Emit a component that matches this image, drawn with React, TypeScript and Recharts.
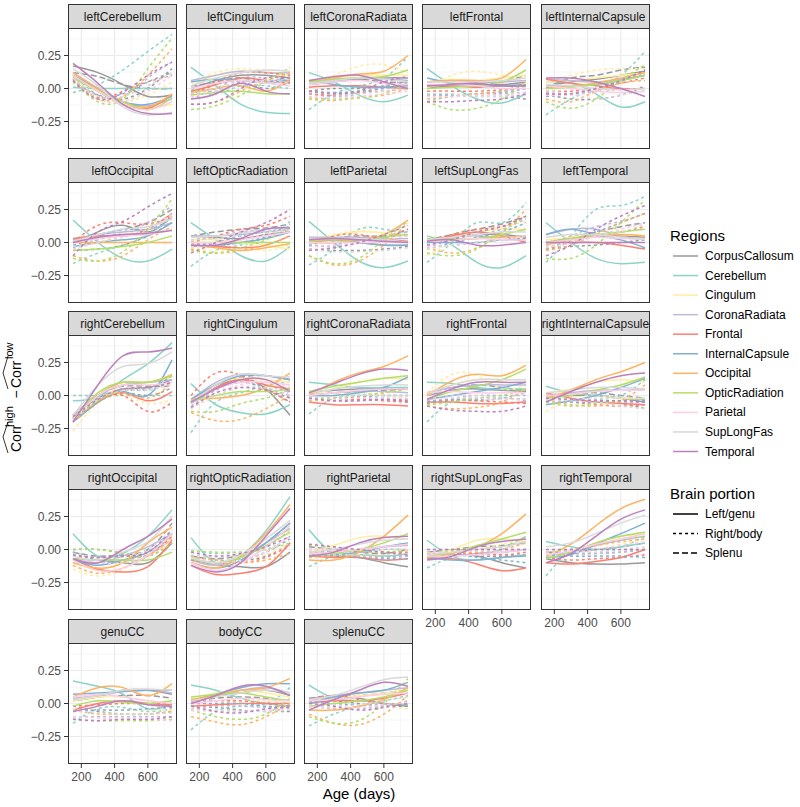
import React from "react";
import { LineChart, Line, XAxis, YAxis, ReferenceLine } from "recharts";

const AGES = [150, 300, 450, 600, 745];

const REGIONS = [
  "CorpusCallosum",
  "Cerebellum",
  "Cingulum",
  "CoronaRadiata",
  "Frontal",
  "InternalCapsule",
  "Occipital",
  "OpticRadiation",
  "Parietal",
  "SupLongFas",
  "Temporal",
];
const REGION_COLORS = [
  "#999999",
  "#8DD3C7",
  "#FFEDA0",
  "#BEBADA",
  "#FB8072",
  "#80B1D3",
  "#FDB462",
  "#B3DE69",
  "#FCCDE5",
  "#D9D9D9",
  "#BC80BD",
];
const PORTIONS = ["Left/genu", "Right/body", "Splenu"];
const PORTION_DASH = [undefined, "3 3", "6 3"];

// series order in every panel: CC genu, CC body, CC splenu, then left/right of each other region
const SERIES: [number, number][] = [[0, 0], [0, 1], [0, 2]];
for (let r = 1; r < REGIONS.length; r++) {
  SERIES.push([r, 0]);
  SERIES.push([r, 1]);
}

const leftCerebellum = [
  [0.17, 0.12, 0.03, -0.06, -0.05], [0.1, -0.05, -0.08, 0.0, 0.15], [0.12, 0.09, 0.03, 0.0, 0.0],
  [0.01, 0.0, 0.0, 0.0, 0.0], [-0.03, 0.03, 0.14, 0.28, 0.41],
  [0.12, -0.02, -0.12, -0.15, -0.12], [0.1, -0.06, -0.1, -0.05, 0.05],
  [0.12, 0.0, -0.1, -0.13, -0.08], [0.08, -0.06, -0.06, 0.08, 0.2],
  [0.1, -0.02, -0.12, -0.15, -0.05], [0.07, -0.07, -0.02, 0.05, 0.1],
  [0.1, 0.0, -0.1, -0.12, -0.06], [0.06, -0.05, -0.04, 0.05, 0.12],
  [0.12, 0.0, -0.1, -0.14, -0.04], [0.08, -0.08, -0.06, 0.1, 0.3],
  [0.08, -0.02, -0.1, -0.16, -0.07], [0.05, -0.1, -0.08, 0.15, 0.38],
  [0.1, -0.02, -0.12, -0.16, -0.1], [0.06, -0.08, -0.1, -0.02, 0.1],
  [0.15, 0.02, -0.14, -0.2, -0.18], [0.08, -0.06, -0.06, 0.02, 0.12],
  [0.19, 0.04, -0.12, -0.19, -0.19], [0.06, -0.08, -0.03, 0.1, 0.2],
];
const leftCingulum = [
  [0.0, 0.06, 0.1, 0.1, 0.08], [-0.05, 0.03, 0.05, 0.0, 0.05], [0.02, 0.05, 0.08, 0.05, 0.1],
  [0.16, 0.02, -0.12, -0.18, -0.19], [-0.02, -0.04, 0.02, 0.02, 0.0],
  [0.02, 0.1, 0.13, 0.12, 0.1], [0.05, 0.12, 0.15, 0.13, 0.1],
  [0.06, 0.1, 0.13, 0.12, 0.12], [-0.08, 0.0, 0.08, 0.08, 0.06],
  [-0.02, 0.03, 0.08, 0.06, 0.04], [-0.05, 0.05, 0.12, 0.12, 0.1],
  [0.05, 0.07, 0.06, 0.05, 0.06], [0.0, -0.02, 0.05, 0.04, 0.07],
  [-0.03, 0.0, 0.02, -0.02, 0.07], [-0.12, -0.1, -0.02, 0.06, 0.12],
  [-0.05, -0.03, -0.02, -0.04, -0.04], [-0.16, -0.13, -0.05, 0.05, 0.16],
  [0.0, 0.04, 0.06, 0.04, 0.02], [-0.06, -0.02, 0.04, 0.06, 0.04],
  [0.02, 0.08, 0.12, 0.14, 0.13], [-0.04, 0.0, 0.06, 0.05, 0.02],
  [-0.08, -0.04, 0.04, -0.02, -0.04], [-0.12, -0.1, 0.0, 0.08, 0.08],
];
const leftCoronaRadiata = [
  [0.03, 0.05, 0.07, 0.08, 0.08], [-0.02, 0.0, 0.0, 0.02, 0.05], [0.05, 0.06, 0.07, 0.05, 0.05],
  [0.12, 0.05, -0.05, -0.1, -0.05], [-0.16, -0.04, 0.02, 0.08, 0.24],
  [0.04, 0.08, 0.1, 0.1, 0.1], [0.05, 0.1, 0.17, 0.18, 0.12],
  [0.05, 0.07, 0.08, 0.08, 0.06], [-0.04, -0.06, -0.04, 0.02, 0.06],
  [0.01, 0.02, 0.02, 0.01, 0.0], [-0.04, -0.05, -0.03, -0.02, 0.0],
  [0.06, 0.03, 0.01, 0.01, 0.02], [-0.02, -0.03, -0.02, 0.0, 0.04],
  [0.05, 0.08, 0.11, 0.13, 0.25], [-0.08, -0.09, -0.07, -0.05, 0.0],
  [0.05, 0.07, 0.08, 0.09, 0.14], [-0.07, -0.08, -0.07, -0.04, 0.05],
  [0.03, 0.05, 0.06, 0.04, 0.03], [-0.06, -0.07, -0.06, -0.04, -0.02],
  [0.04, 0.06, 0.08, 0.07, 0.05], [-0.03, -0.04, -0.04, -0.02, 0.0],
  [0.06, 0.09, 0.1, 0.05, 0.0], [-0.02, -0.04, -0.02, 0.05, 0.09],
];
const leftFrontal = [
  [0.0, 0.02, 0.03, 0.03, 0.05], [-0.05, -0.05, -0.05, -0.06, -0.08], [0.02, 0.03, 0.02, 0.05, 0.1],
  [0.15, 0.02, -0.08, -0.11, -0.04], [-0.1, -0.06, -0.04, -0.02, 0.02],
  [0.05, 0.07, 0.06, 0.08, 0.1], [0.0, 0.1, 0.13, 0.1, 0.05],
  [0.05, 0.06, 0.05, 0.05, 0.06], [-0.05, -0.05, -0.06, -0.04, -0.03],
  [0.02, 0.02, 0.01, 0.02, 0.02], [-0.02, -0.02, -0.02, -0.01, 0.0],
  [0.08, 0.04, 0.02, 0.02, 0.03], [-0.04, -0.05, -0.04, -0.03, 0.0],
  [0.05, 0.06, 0.06, 0.08, 0.22], [-0.08, -0.06, -0.04, -0.02, 0.05],
  [0.0, 0.01, 0.02, 0.05, 0.14], [-0.1, -0.16, -0.15, -0.08, 0.05],
  [0.03, 0.03, 0.02, 0.0, 0.0], [-0.06, -0.06, -0.05, -0.05, -0.03],
  [0.05, 0.05, 0.05, 0.06, 0.08], [-0.04, -0.04, -0.06, -0.06, -0.05],
  [0.02, 0.03, 0.04, 0.02, 0.02], [-0.1, -0.1, -0.09, -0.08, -0.04],
];
const leftInternalCapsule = [
  [0.02, 0.05, 0.07, 0.1, 0.13], [-0.04, -0.08, -0.08, -0.05, 0.02], [0.0, 0.08, 0.1, 0.14, 0.16],
  [0.05, 0.04, -0.04, -0.14, -0.1], [-0.2, -0.08, 0.0, 0.1, 0.28],
  [0.05, 0.06, 0.08, 0.1, 0.12], [0.05, 0.1, 0.14, 0.15, 0.15],
  [0.07, 0.06, 0.05, 0.07, 0.1], [-0.03, -0.04, -0.02, 0.05, 0.12],
  [0.07, 0.04, 0.02, 0.0, 0.0], [-0.02, -0.02, 0.0, 0.04, 0.08],
  [0.02, 0.02, 0.03, 0.06, 0.1], [-0.06, -0.04, 0.0, 0.06, 0.14],
  [0.0, 0.02, 0.04, 0.08, 0.12], [-0.08, -0.1, -0.02, 0.04, 0.06],
  [0.0, 0.01, 0.03, 0.06, 0.1], [-0.1, -0.15, -0.08, 0.06, 0.18],
  [0.02, 0.0, -0.02, -0.03, -0.02], [-0.05, -0.05, -0.03, -0.01, 0.0],
  [0.03, 0.02, 0.0, -0.01, 0.0], [-0.02, -0.04, -0.08, -0.05, -0.02],
  [0.08, 0.08, 0.05, 0.0, -0.06], [-0.04, -0.04, 0.0, 0.06, 0.14],
];
const leftOccipital = [
  [0.0, 0.08, 0.13, 0.08, 0.2], [-0.06, -0.05, -0.02, 0.05, 0.15], [0.02, 0.06, 0.1, 0.15, 0.25],
  [0.17, 0.0, -0.12, -0.14, -0.05], [-0.16, -0.08, -0.02, 0.06, 0.2],
  [0.0, 0.03, 0.06, 0.07, 0.1], [-0.05, 0.0, 0.06, 0.1, 0.15],
  [0.02, 0.06, 0.08, 0.1, 0.15], [-0.04, 0.02, 0.08, 0.15, 0.28],
  [0.03, 0.05, 0.05, 0.1, 0.22], [0.0, 0.13, 0.15, 0.14, 0.2],
  [-0.03, 0.0, 0.02, 0.05, 0.15], [-0.02, 0.04, 0.1, 0.1, 0.18],
  [0.0, 0.0, 0.0, 0.0, 0.0], [-0.1, -0.14, -0.1, 0.02, 0.12],
  [-0.06, -0.05, -0.03, 0.0, 0.05], [-0.12, -0.14, -0.07, 0.1, 0.33],
  [0.0, 0.03, 0.05, 0.06, 0.1], [-0.05, 0.0, 0.05, 0.1, 0.2],
  [0.01, 0.06, 0.1, 0.12, 0.18], [-0.03, 0.0, 0.04, 0.1, 0.22],
  [0.0, 0.04, 0.06, 0.07, 0.09], [-0.1, 0.08, 0.16, 0.27, 0.37],
];
const leftOpticRadiation = [
  [0.05, 0.04, 0.03, 0.06, 0.08], [0.0, -0.02, 0.0, 0.04, 0.1], [0.05, 0.08, 0.1, 0.11, 0.14],
  [0.15, 0.02, -0.1, -0.14, -0.03], [-0.18, -0.06, -0.02, 0.04, 0.16],
  [0.02, 0.02, 0.0, -0.02, -0.05], [-0.04, -0.06, -0.04, -0.06, -0.02],
  [0.05, 0.05, 0.06, 0.08, 0.1], [0.02, 0.05, 0.08, 0.1, 0.12],
  [-0.02, -0.03, -0.04, -0.02, 0.05], [0.0, 0.05, 0.1, 0.13, 0.2],
  [-0.03, -0.02, 0.0, 0.03, 0.08], [-0.02, 0.0, 0.05, 0.08, 0.12],
  [-0.02, -0.04, -0.06, -0.04, -0.01], [-0.05, -0.08, -0.06, -0.02, 0.05],
  [0.0, 0.0, 0.0, 0.0, 0.0], [-0.06, -0.08, -0.04, 0.02, 0.12],
  [0.0, 0.0, 0.02, 0.05, 0.08], [-0.03, -0.02, 0.02, 0.06, 0.1],
  [0.04, 0.05, 0.07, 0.1, 0.12], [0.02, 0.03, 0.05, 0.08, 0.1],
  [-0.02, -0.02, 0.03, 0.1, 0.11], [-0.08, 0.0, 0.08, 0.15, 0.25],
];
const leftParietal = [
  [0.02, 0.02, 0.0, -0.02, -0.02], [-0.05, -0.06, -0.06, -0.05, -0.03], [0.0, 0.03, 0.05, 0.05, 0.1],
  [0.16, 0.0, -0.14, -0.19, -0.14], [-0.17, -0.05, 0.1, 0.1, 0.08],
  [0.03, 0.05, 0.08, 0.07, 0.05], [0.03, 0.06, 0.09, 0.07, 0.05],
  [0.04, 0.04, 0.04, 0.03, 0.03], [-0.02, -0.03, 0.0, 0.04, 0.08],
  [0.0, 0.02, 0.03, 0.02, 0.01], [-0.03, 0.05, 0.06, 0.04, 0.1],
  [0.0, 0.0, 0.0, -0.02, -0.02], [-0.02, -0.02, 0.02, 0.04, 0.06],
  [0.0, 0.0, 0.02, 0.06, 0.17], [-0.1, -0.17, -0.14, -0.02, 0.15],
  [0.01, 0.02, 0.02, 0.04, 0.06], [-0.1, -0.16, -0.12, 0.02, 0.16],
  [0.0, 0.0, 0.0, 0.0, 0.0], [-0.03, -0.02, 0.0, 0.02, 0.05],
  [0.03, 0.03, 0.03, 0.02, 0.0], [-0.05, -0.07, -0.07, -0.06, -0.04],
  [0.02, 0.03, 0.02, 0.01, 0.0], [-0.06, -0.04, 0.0, 0.06, 0.13],
];
const leftSupLongFas = [
  [0.0, 0.04, 0.06, 0.06, 0.04], [-0.03, -0.02, 0.0, 0.02, 0.03], [0.02, 0.06, 0.1, 0.14, 0.2],
  [0.05, -0.02, -0.15, -0.19, -0.1], [-0.15, 0.0, 0.15, 0.15, 0.3],
  [0.0, 0.04, 0.08, 0.1, 0.1], [-0.1, 0.0, 0.08, 0.12, 0.16],
  [0.02, 0.04, 0.05, 0.04, 0.05], [-0.02, 0.02, 0.06, 0.1, 0.18],
  [0.02, 0.05, 0.08, 0.05, 0.0], [0.0, 0.06, 0.1, 0.12, 0.2],
  [0.0, 0.0, 0.0, 0.02, 0.02], [-0.05, 0.0, 0.04, 0.08, 0.15],
  [0.01, 0.02, 0.03, 0.04, 0.05], [-0.04, -0.08, -0.04, 0.08, 0.25],
  [0.03, 0.03, 0.03, 0.06, 0.1], [-0.08, -0.1, -0.05, 0.08, 0.2],
  [0.01, 0.02, 0.03, 0.02, 0.02], [-0.03, -0.02, 0.0, 0.02, 0.05],
  [0.02, 0.04, 0.06, 0.08, 0.08], [-0.05, -0.02, 0.0, 0.03, 0.05],
  [0.01, 0.02, -0.02, -0.02, 0.0], [-0.02, 0.02, 0.08, 0.12, 0.2],
];
const leftTemporal = [
  [0.0, 0.03, 0.05, 0.05, 0.04], [-0.05, -0.03, -0.02, 0.0, 0.02], [0.0, 0.04, 0.08, 0.12, 0.15],
  [0.15, 0.0, -0.12, -0.16, -0.15], [-0.15, 0.05, 0.25, 0.28, 0.35],
  [0.02, 0.04, 0.06, 0.06, 0.05], [-0.05, 0.0, 0.05, 0.08, 0.1],
  [0.06, 0.1, 0.1, 0.05, 0.02], [-0.02, 0.05, 0.12, 0.16, 0.22],
  [0.0, 0.0, 0.0, -0.02, -0.05], [-0.05, 0.0, 0.05, 0.08, 0.12],
  [0.06, 0.1, 0.06, 0.02, -0.04], [-0.05, 0.02, 0.08, 0.15, 0.22],
  [-0.02, 0.02, 0.05, 0.06, 0.05], [-0.06, -0.02, 0.06, 0.15, 0.22],
  [0.0, 0.03, 0.06, 0.08, 0.1], [-0.12, -0.12, -0.02, 0.15, 0.32],
  [0.0, 0.02, 0.04, 0.03, 0.03], [-0.04, 0.0, 0.05, 0.1, 0.15],
  [0.04, 0.06, 0.06, 0.04, 0.02], [-0.03, 0.0, 0.05, 0.08, 0.14],
  [0.0, 0.0, 0.0, 0.0, 0.0], [-0.1, -0.02, 0.1, 0.2, 0.28],
];
const rightCerebellum = [
  [-0.15, -0.02, 0.05, 0.06, 0.12], [-0.18, -0.05, 0.02, 0.0, 0.06], [-0.15, 0.0, 0.07, 0.07, 0.07],
  [-0.04, -0.01, 0.12, 0.24, 0.4], [0.0, 0.0, 0.0, 0.0, 0.0],
  [-0.2, -0.05, 0.08, 0.1, 0.14], [-0.27, -0.06, 0.0, -0.06, -0.03],
  [-0.15, 0.0, 0.08, 0.1, 0.12], [-0.17, -0.04, 0.04, 0.04, 0.1],
  [-0.2, -0.05, 0.02, -0.04, 0.03], [-0.18, -0.05, 0.0, -0.12, -0.05],
  [-0.2, -0.05, 0.03, 0.0, 0.27], [-0.18, -0.04, 0.04, 0.05, 0.15],
  [-0.17, 0.0, 0.1, 0.1, 0.16], [-0.2, -0.04, 0.02, -0.02, 0.1],
  [-0.17, 0.02, 0.1, 0.1, 0.15], [-0.17, -0.04, 0.04, 0.06, 0.1],
  [-0.18, 0.0, 0.08, 0.08, 0.1], [-0.16, -0.03, 0.04, 0.05, 0.08],
  [-0.15, 0.08, 0.22, 0.24, 0.33], [-0.15, -0.02, 0.04, 0.04, 0.1],
  [-0.2, 0.08, 0.3, 0.33, 0.36], [-0.16, -0.03, 0.05, 0.06, 0.1],
];
const rightCingulum = [
  [-0.06, 0.06, 0.13, 0.05, -0.15], [-0.05, 0.05, 0.1, 0.05, -0.05], [-0.04, 0.08, 0.14, 0.15, 0.12],
  [0.09, -0.07, -0.13, -0.14, -0.07], [-0.28, -0.05, 0.02, 0.08, 0.1],
  [-0.04, 0.08, 0.13, 0.12, 0.1], [-0.1, 0.05, 0.12, 0.1, 0.05],
  [-0.03, 0.1, 0.16, 0.15, 0.12], [-0.08, 0.04, 0.1, 0.08, 0.02],
  [-0.05, 0.06, 0.12, 0.08, 0.05], [0.0, 0.17, 0.15, 0.05, -0.05],
  [-0.03, 0.08, 0.15, 0.15, 0.12], [-0.06, 0.05, 0.1, 0.06, 0.0],
  [-0.03, -0.02, 0.0, 0.06, 0.17], [-0.13, -0.19, -0.18, -0.1, 0.0],
  [-0.04, 0.0, 0.03, 0.03, 0.05], [-0.12, -0.12, -0.06, -0.02, 0.05],
  [-0.05, 0.05, 0.1, 0.1, 0.08], [-0.08, 0.02, 0.08, 0.1, 0.06],
  [-0.06, 0.08, 0.16, 0.15, 0.14], [-0.1, 0.0, 0.06, 0.06, 0.0],
  [-0.05, 0.05, 0.12, 0.12, 0.03], [-0.09, 0.02, 0.06, 0.04, -0.02],
];
const rightCoronaRadiata = [
  [0.02, 0.04, 0.05, 0.05, 0.05], [-0.02, -0.03, -0.03, -0.03, -0.05], [0.0, 0.02, 0.03, 0.04, 0.05],
  [0.1, 0.08, 0.06, 0.06, 0.06], [-0.14, -0.02, 0.0, 0.0, 0.0],
  [0.0, 0.05, 0.1, 0.13, 0.12], [-0.05, 0.0, 0.02, 0.0, -0.02],
  [0.0, 0.02, 0.03, 0.03, 0.02], [-0.02, -0.02, -0.01, -0.02, -0.03],
  [-0.05, -0.07, -0.07, -0.07, -0.08], [-0.03, -0.04, -0.03, -0.04, -0.05],
  [0.0, 0.0, 0.02, 0.06, 0.14], [-0.02, -0.02, -0.01, 0.0, 0.0],
  [0.0, 0.1, 0.17, 0.22, 0.3], [-0.04, -0.02, 0.0, 0.02, 0.05],
  [0.03, 0.07, 0.1, 0.13, 0.15], [-0.02, -0.02, 0.0, 0.02, 0.05],
  [0.0, 0.02, 0.04, 0.05, 0.05], [-0.03, -0.03, -0.02, -0.02, -0.02],
  [0.02, 0.05, 0.07, 0.08, 0.08], [-0.01, -0.01, 0.0, 0.0, 0.0],
  [0.02, 0.09, 0.16, 0.2, 0.19], [-0.02, -0.04, -0.04, -0.03, -0.04],
];
const rightFrontal = [
  [0.0, 0.04, 0.05, 0.04, 0.03], [-0.05, -0.03, -0.02, -0.02, -0.03], [0.02, 0.06, 0.08, 0.06, 0.04],
  [0.1, 0.09, 0.06, 0.05, 0.05], [-0.2, -0.05, -0.04, -0.02, 0.02],
  [0.0, 0.08, 0.12, 0.12, 0.12], [0.02, 0.16, 0.15, 0.05, 0.08],
  [0.02, 0.06, 0.08, 0.08, 0.08], [-0.04, -0.02, 0.0, 0.0, 0.0],
  [-0.05, -0.05, -0.06, -0.06, -0.05], [-0.06, -0.04, -0.04, -0.05, -0.06],
  [-0.03, 0.0, 0.03, 0.06, 0.1], [-0.05, -0.03, -0.03, -0.02, -0.04],
  [0.0, 0.11, 0.16, 0.15, 0.23], [-0.08, -0.1, -0.09, -0.05, 0.05],
  [-0.03, 0.03, 0.07, 0.12, 0.2], [-0.07, -0.05, -0.02, 0.0, 0.05],
  [0.02, 0.03, 0.02, 0.02, 0.02], [-0.03, -0.02, -0.02, -0.03, -0.03],
  [0.02, 0.08, 0.12, 0.12, 0.12], [-0.02, 0.0, 0.0, -0.02, -0.03],
  [-0.03, 0.05, 0.1, 0.1, 0.1], [-0.08, -0.11, -0.12, -0.12, -0.08],
];
const rightInternalCapsule = [
  [0.0, 0.0, 0.0, -0.02, -0.05], [-0.02, -0.04, -0.05, -0.06, -0.1], [0.0, 0.01, 0.02, 0.0, -0.02],
  [0.07, 0.02, 0.0, -0.02, -0.03], [-0.03, -0.04, -0.03, 0.0, 0.12],
  [0.02, 0.05, 0.1, 0.12, 0.1], [-0.12, -0.03, 0.0, -0.02, -0.02],
  [0.0, 0.02, 0.04, 0.04, 0.05], [-0.03, -0.04, -0.04, -0.05, -0.05],
  [0.02, -0.02, -0.05, -0.06, -0.07], [-0.04, -0.05, -0.07, -0.08, -0.07],
  [-0.07, -0.04, 0.0, 0.06, 0.13], [-0.04, -0.05, -0.05, -0.04, -0.04],
  [-0.02, 0.04, 0.12, 0.18, 0.25], [-0.04, -0.07, -0.08, -0.04, 0.08],
  [-0.02, 0.0, 0.04, 0.08, 0.14], [-0.05, -0.08, -0.06, -0.04, -0.02],
  [0.0, 0.01, 0.03, 0.04, 0.04], [-0.03, -0.03, -0.02, -0.02, -0.02],
  [0.02, 0.04, 0.06, 0.06, 0.05], [-0.04, -0.04, -0.05, -0.08, -0.1],
  [-0.05, 0.03, 0.1, 0.15, 0.17], [-0.02, -0.03, -0.04, -0.04, -0.05],
];
const rightOccipital = [
  [-0.07, -0.08, -0.1, -0.1, 0.05], [0.0, 0.0, -0.03, -0.05, 0.05], [-0.02, -0.05, -0.04, 0.0, 0.2],
  [0.12, -0.05, -0.03, 0.1, 0.3], [-0.02, -0.06, -0.05, -0.02, 0.12],
  [-0.1, -0.15, -0.1, -0.02, 0.1], [-0.15, -0.2, -0.15, -0.05, 0.05],
  [-0.07, -0.1, -0.05, 0.02, 0.12], [-0.04, -0.1, -0.08, -0.04, 0.08],
  [-0.07, -0.15, -0.17, -0.13, 0.07], [-0.05, -0.06, -0.05, -0.04, 0.1],
  [-0.08, -0.12, -0.08, -0.02, 0.12], [-0.02, -0.08, -0.1, -0.05, 0.12],
  [-0.1, -0.14, -0.1, 0.05, 0.17], [-0.12, -0.18, -0.14, -0.05, 0.08],
  [-0.07, -0.08, -0.08, -0.08, -0.02], [0.0, 0.0, -0.03, -0.05, 0.05],
  [-0.08, -0.16, -0.14, -0.04, 0.12], [-0.05, -0.1, -0.1, -0.05, 0.08],
  [-0.05, -0.08, -0.02, 0.06, 0.25], [-0.03, -0.06, -0.06, 0.0, 0.15],
  [-0.07, -0.1, 0.0, 0.1, 0.23], [-0.04, -0.06, -0.05, -0.02, 0.15],
];
const rightOpticRadiation = [
  [-0.08, -0.12, -0.13, -0.13, -0.02], [-0.05, -0.08, -0.08, -0.05, 0.05], [-0.05, -0.07, -0.04, 0.05, 0.2],
  [0.09, -0.1, -0.05, 0.14, 0.4], [-0.01, -0.03, -0.02, 0.02, 0.15],
  [-0.08, -0.12, -0.05, 0.05, 0.15], [-0.05, -0.1, -0.08, -0.04, 0.05],
  [-0.08, -0.12, -0.06, 0.05, 0.16], [-0.05, -0.1, -0.08, -0.02, 0.1],
  [-0.12, -0.19, -0.18, -0.13, 0.05], [-0.08, -0.1, -0.1, -0.06, 0.03],
  [-0.1, -0.14, -0.08, 0.05, 0.2], [-0.07, -0.1, -0.08, -0.02, 0.08],
  [-0.1, -0.14, -0.05, 0.12, 0.34], [-0.05, -0.08, -0.1, -0.08, -0.03],
  [-0.07, -0.1, -0.06, 0.03, 0.13], [-0.01, -0.02, -0.02, 0.0, 0.05],
  [-0.1, -0.16, -0.1, 0.02, 0.18], [-0.06, -0.1, -0.08, -0.02, 0.1],
  [-0.06, -0.1, -0.04, 0.08, 0.22], [-0.04, -0.06, -0.04, 0.0, 0.1],
  [-0.12, -0.17, -0.1, 0.1, 0.31], [-0.02, -0.05, -0.03, 0.02, 0.1],
];
const rightParietal = [
  [-0.04, -0.05, -0.06, -0.1, -0.13], [-0.02, -0.02, -0.04, -0.05, -0.05], [0.02, 0.0, -0.02, -0.03, 0.0],
  [0.15, -0.03, -0.04, -0.05, -0.03], [-0.13, -0.05, -0.02, 0.0, 0.0],
  [-0.02, 0.03, 0.09, 0.1, 0.08], [-0.03, -0.03, -0.02, 0.0, 0.0],
  [-0.03, -0.02, 0.0, 0.02, 0.03], [-0.04, -0.05, -0.05, -0.06, -0.05],
  [-0.05, -0.06, -0.06, -0.08, -0.07], [0.0, 0.0, -0.01, -0.02, -0.02],
  [-0.05, -0.04, -0.02, 0.02, 0.05], [-0.02, -0.04, -0.06, -0.07, -0.07],
  [-0.08, -0.08, -0.02, 0.1, 0.26], [-0.06, -0.05, -0.05, -0.04, 0.0],
  [-0.05, -0.03, 0.0, 0.05, 0.12], [0.03, 0.02, -0.01, -0.02, 0.0],
  [-0.03, -0.02, 0.0, 0.02, 0.04], [0.0, 0.0, 0.0, 0.0, 0.0],
  [-0.02, 0.0, 0.04, 0.07, 0.08], [-0.04, -0.04, -0.04, -0.04, -0.03],
  [-0.05, -0.02, 0.05, 0.09, 0.1], [0.04, 0.02, 0.0, -0.02, -0.04],
];
const rightSupLongFas = [
  [-0.05, -0.04, -0.05, -0.1, -0.14], [-0.03, -0.04, -0.05, -0.05, -0.04], [-0.02, 0.0, 0.02, 0.03, 0.05],
  [0.07, -0.05, -0.08, -0.06, -0.04], [-0.14, -0.06, -0.03, 0.0, 0.1],
  [-0.04, 0.0, 0.07, 0.08, 0.06], [-0.05, -0.04, 0.0, 0.04, 0.08],
  [-0.06, -0.05, -0.03, -0.02, 0.0], [-0.02, -0.02, -0.02, -0.02, 0.0],
  [-0.07, -0.07, -0.11, -0.16, -0.14], [-0.03, -0.03, -0.03, -0.04, -0.02],
  [-0.06, -0.08, -0.08, -0.06, -0.05], [-0.02, -0.03, -0.06, -0.08, -0.1],
  [-0.06, -0.03, 0.02, 0.12, 0.27], [-0.04, -0.03, -0.02, 0.0, 0.05],
  [-0.05, -0.02, 0.03, 0.08, 0.13], [-0.03, -0.01, 0.0, 0.02, 0.1],
  [-0.05, -0.05, -0.04, -0.02, 0.0], [-0.02, -0.02, -0.01, -0.01, 0.0],
  [-0.04, -0.02, 0.0, 0.02, 0.06], [0.0, 0.0, 0.0, 0.0, 0.0],
  [-0.08, -0.05, 0.02, 0.06, 0.08], [0.0, 0.0, 0.0, 0.0, 0.0],
];
const rightTemporal = [
  [-0.07, -0.1, -0.11, -0.11, -0.1], [-0.02, -0.03, -0.03, -0.02, 0.0], [-0.02, -0.02, 0.0, 0.02, 0.05],
  [0.06, 0.02, 0.0, 0.02, 0.05], [-0.2, -0.02, 0.0, 0.02, 0.1],
  [-0.05, -0.02, 0.05, 0.1, 0.12], [-0.04, -0.03, 0.0, 0.04, 0.08],
  [-0.04, -0.02, 0.03, 0.07, 0.1], [-0.03, -0.03, -0.03, -0.02, 0.0],
  [-0.1, -0.11, -0.09, -0.06, 0.0], [-0.06, -0.08, -0.07, -0.06, -0.04],
  [-0.06, -0.04, 0.04, 0.12, 0.2], [-0.04, -0.05, -0.05, -0.05, -0.06],
  [-0.05, 0.04, 0.18, 0.31, 0.38], [-0.02, 0.0, 0.03, 0.06, 0.08],
  [-0.07, -0.02, 0.05, 0.1, 0.13], [-0.03, 0.0, 0.04, 0.08, 0.1],
  [-0.04, -0.01, 0.04, 0.08, 0.12], [-0.03, -0.02, 0.0, 0.03, 0.06],
  [0.02, 0.05, 0.12, 0.2, 0.26], [-0.02, -0.02, -0.02, 0.0, 0.02],
  [-0.1, -0.03, 0.1, 0.23, 0.3], [0.0, 0.0, 0.0, 0.0, 0.0],
];
const genuCC = [
  [0.02, 0.05, 0.1, 0.1, 0.07], [-0.02, -0.06, -0.08, -0.08, -0.06], [0.03, 0.05, 0.06, 0.06, 0.04],
  [0.17, 0.13, 0.07, -0.04, 0.0], [-0.15, -0.04, -0.03, -0.06, -0.04],
  [0.02, 0.05, 0.05, 0.02, 0.0], [-0.06, -0.05, -0.05, -0.05, -0.05],
  [0.04, 0.06, 0.09, 0.1, 0.08], [-0.1, -0.1, -0.1, -0.1, -0.1],
  [-0.05, 0.0, 0.02, 0.0, -0.01], [-0.02, -0.01, 0.0, 0.0, 0.0],
  [0.07, 0.08, 0.09, 0.1, 0.1], [-0.06, -0.05, -0.05, -0.04, -0.03],
  [0.05, 0.12, 0.12, 0.06, 0.15], [-0.05, -0.08, -0.08, -0.08, -0.06],
  [-0.02, 0.02, 0.01, 0.0, 0.02], [-0.12, -0.13, -0.13, -0.13, -0.12],
  [0.05, 0.07, 0.05, 0.02, 0.0], [-0.1, -0.11, -0.12, -0.12, -0.13],
  [0.03, 0.06, 0.1, 0.11, 0.1], [-0.05, -0.07, -0.08, -0.08, -0.07],
  [-0.06, -0.02, 0.02, -0.01, -0.02], [-0.12, -0.13, -0.12, -0.12, -0.1],
];
const bodyCC = [
  [0.03, 0.06, 0.08, 0.1, 0.06], [-0.02, -0.03, -0.05, -0.06, -0.06], [0.02, 0.04, 0.05, 0.04, 0.02],
  [0.14, 0.1, 0.04, 0.0, -0.02], [-0.2, -0.06, -0.02, 0.0, 0.12],
  [0.03, 0.08, 0.1, 0.08, 0.05], [-0.04, 0.0, 0.02, 0.02, 0.0],
  [0.02, 0.06, 0.1, 0.12, 0.08], [-0.04, -0.02, -0.02, -0.03, -0.04],
  [-0.02, -0.01, 0.0, 0.0, 0.0], [0.02, 0.02, 0.02, 0.0, -0.02],
  [0.02, 0.07, 0.12, 0.15, 0.15], [0.0, 0.0, 0.0, -0.02, -0.02],
  [0.03, 0.06, 0.1, 0.12, 0.19], [-0.1, -0.14, -0.16, -0.1, 0.0],
  [0.05, 0.07, 0.08, 0.05, 0.02], [-0.05, -0.1, -0.12, -0.08, 0.04],
  [0.0, 0.02, 0.04, 0.03, 0.02], [-0.05, -0.06, -0.06, -0.05, -0.04],
  [0.02, 0.05, 0.08, 0.1, 0.08], [-0.04, -0.05, -0.06, -0.06, -0.05],
  [0.0, 0.06, 0.13, 0.13, 0.06], [-0.02, -0.06, -0.07, -0.04, -0.03],
];
const splenuCC = [
  [0.03, 0.05, 0.04, 0.0, -0.02], [0.02, 0.02, 0.0, -0.02, -0.02], [0.04, 0.06, 0.06, 0.08, 0.1],
  [0.14, 0.04, 0.02, 0.0, -0.01], [-0.17, -0.08, -0.02, 0.02, 0.06],
  [0.0, 0.04, 0.06, 0.08, 0.1], [-0.02, -0.02, -0.01, -0.02, -0.04],
  [0.02, 0.06, 0.08, 0.1, 0.12], [-0.02, -0.04, -0.04, -0.02, 0.02],
  [0.0, 0.02, 0.02, 0.04, 0.08], [0.03, 0.06, 0.03, 0.0, 0.0],
  [0.0, 0.05, 0.08, 0.1, 0.16], [0.02, 0.0, -0.01, -0.01, 0.0],
  [-0.05, -0.05, -0.02, 0.03, 0.12], [-0.08, -0.15, -0.16, -0.08, 0.06],
  [-0.02, 0.0, 0.02, 0.05, 0.1], [-0.1, -0.15, -0.13, 0.0, 0.19],
  [0.02, 0.03, 0.05, 0.07, 0.08], [-0.03, -0.03, -0.03, -0.01, 0.0],
  [0.03, 0.06, 0.12, 0.18, 0.2], [-0.02, -0.02, -0.01, 0.02, 0.05],
  [-0.05, 0.03, 0.1, 0.16, 0.13], [0.0, -0.02, -0.05, -0.03, 0.0],
];

const PANELS: { name: string; values: number[][] }[] = [
  { name: "leftCerebellum", values: leftCerebellum },
  { name: "leftCingulum", values: leftCingulum },
  { name: "leftCoronaRadiata", values: leftCoronaRadiata },
  { name: "leftFrontal", values: leftFrontal },
  { name: "leftInternalCapsule", values: leftInternalCapsule },
  { name: "leftOccipital", values: leftOccipital },
  { name: "leftOpticRadiation", values: leftOpticRadiation },
  { name: "leftParietal", values: leftParietal },
  { name: "leftSupLongFas", values: leftSupLongFas },
  { name: "leftTemporal", values: leftTemporal },
  { name: "rightCerebellum", values: rightCerebellum },
  { name: "rightCingulum", values: rightCingulum },
  { name: "rightCoronaRadiata", values: rightCoronaRadiata },
  { name: "rightFrontal", values: rightFrontal },
  { name: "rightInternalCapsule", values: rightInternalCapsule },
  { name: "rightOccipital", values: rightOccipital },
  { name: "rightOpticRadiation", values: rightOpticRadiation },
  { name: "rightParietal", values: rightParietal },
  { name: "rightSupLongFas", values: rightSupLongFas },
  { name: "rightTemporal", values: rightTemporal },
  { name: "genuCC", values: genuCC },
  { name: "bodyCC", values: bodyCC },
  { name: "splenuCC", values: splenuCC },
];

const X_TICKS = [200, 400, 600];
const X_MINOR = [300, 500, 700];
const Y_TICKS = [-0.25, 0, 0.25];
const Y_MINOR = [-0.375, -0.125, 0.125, 0.375];

// layout
const COL_LEFT = [68, 186, 304, 422, 541];
const ROW_TOP = [4, 158, 311, 465, 619];
const PANEL_W = 109;
const STRIP_H = 24;
const PLOT_H = 121;
const Y_W = 40;
const X_H = 22;
const FONT = "'Liberation Sans', Arial, Helvetica, sans-serif";

const fmtY = (v: number) => (v < 0 ? "\u2212" : "") + Math.abs(v).toFixed(2);

function Panel({ name, values, index }: { name: string; values: number[][]; index: number }) {
  const col = index % 5;
  const row = Math.floor(index / 5);
  const showY = col === 0;
  const showX = index >= 18;
  const data = AGES.map((age, j) => {
    const rec: Record<string, number> = { age };
    values.forEach((s, i) => {
      rec["s" + i] = s[j];
    });
    return rec;
  });
  const x = COL_LEFT[col];
  const top = ROW_TOP[row];
  return (
    <>
      <div
        style={{
          position: "absolute",
          left: x,
          top,
          width: PANEL_W,
          height: STRIP_H + 1,
          boxSizing: "border-box",
          border: "1px solid #333333",
          background: "#D9D9D9",
          display: "flex",
          alignItems: "center",
          justifyContent: "center",
          overflow: "hidden",
          whiteSpace: "nowrap",
          fontSize: 12,
          color: "#1A1A1A",
        }}
      >
        {name}
      </div>
      <div style={{ position: "absolute", left: x - (showY ? Y_W : 0), top: top + STRIP_H }}>
        <LineChart
          width={PANEL_W + (showY ? Y_W : 0)}
          height={PLOT_H + (showX ? X_H : 0)}
          data={data}
          margin={{ top: 0, right: 0, bottom: 0, left: 0 }}
        >
          <XAxis
            type="number"
            dataKey="age"
            domain={[120, 775]}
            allowDataOverflow
            ticks={X_TICKS}
            hide={!showX}
            height={X_H}
            tickSize={4}
            tickMargin={4}
            axisLine={false}
            tickLine={{ stroke: "#333333" }}
            tick={{ fontSize: 12, fill: "#4D4D4D" }}
          />
          <YAxis
            type="number"
            domain={[-0.458, 0.458]}
            allowDataOverflow
            ticks={Y_TICKS}
            hide={!showY}
            width={Y_W}
            tickSize={4}
            tickMargin={3}
            axisLine={false}
            tickLine={{ stroke: "#333333" }}
            tick={{ fontSize: 12, fill: "#4D4D4D" }}
            tickFormatter={fmtY}
          />
          {X_MINOR.map((v) => (
            <ReferenceLine key={"xm" + v} x={v} stroke="#F0F0F0" strokeWidth={0.6} />
          ))}
          {Y_MINOR.map((v) => (
            <ReferenceLine key={"ym" + v} y={v} stroke="#F0F0F0" strokeWidth={0.6} />
          ))}
          {X_TICKS.map((v) => (
            <ReferenceLine key={"x" + v} x={v} stroke="#EBEBEB" strokeWidth={1.1} />
          ))}
          {Y_TICKS.map((v) => (
            <ReferenceLine key={"y" + v} y={v} stroke="#EBEBEB" strokeWidth={1.1} />
          ))}
          {SERIES.map(([r, p], i) => (
            <Line
              key={i}
              dataKey={"s" + i}
              type="natural"
              stroke={REGION_COLORS[r]}
              strokeWidth={1.5}
              strokeDasharray={PORTION_DASH[p]}
              dot={false}
              activeDot={false}
              isAnimationActive={false}
            />
          ))}
        </LineChart>
      </div>
      <div
        style={{
          position: "absolute",
          left: x,
          top: top + STRIP_H,
          width: PANEL_W,
          height: PLOT_H,
          boxSizing: "border-box",
          border: "1px solid #333333",
          pointerEvents: "none",
        }}
      />
    </>
  );
}

function YLabel() {
  return (
    <svg style={{ position: "absolute", left: 0, top: 0 }} width={40} height={807}>
      <g transform="translate(21,385) rotate(-90)" fill="#000" fontFamily={FONT}>
        <text x={-67} y={0} fontSize={14}>Corr</text>
        <path d="M-68,-13 L-52,-18 L-37,-13" fill="none" stroke="#000" strokeWidth={0.8} />
        <text x={-42} y={-8} fontSize={11}>high</text>
        <text x={-9.5} y={0} fontSize={14} textAnchor="middle">{"\u2212"}</text>
        <text x={-3} y={0} fontSize={14}>Corr</text>
        <path d="M-4,-13 L12,-18 L29,-13" fill="none" stroke="#000" strokeWidth={0.8} />
        <text x={26} y={-8} fontSize={11}>low</text>
      </g>
    </svg>
  );
}

function Legends() {
  const regionTop = 256;
  const step = 19.55;
  const portionTop = 514;
  return (
    <svg style={{ position: "absolute", left: 660, top: 220 }} width={140} height={350} fontFamily={FONT}>
      <text x={10} y={21} fontSize={15} fill="#000">Regions</text>
      {REGIONS.map((r, i) => {
        const y = regionTop - 220 + i * step;
        return (
          <g key={r}>
            <line x1={13} x2={38} y1={y} y2={y} stroke={REGION_COLORS[i]} strokeWidth={1.5} />
            <text x={45} y={y + 4} fontSize={12} fill="#000">{r}</text>
          </g>
        );
      })}
      <text x={10} y={279} fontSize={15} fill="#000">Brain portion</text>
      {PORTIONS.map((p, i) => {
        const y = portionTop - 220 + i * step;
        return (
          <g key={p}>
            <line x1={13} x2={38} y1={y} y2={y} stroke="#000" strokeWidth={1.5} strokeDasharray={PORTION_DASH[i]} />
            <text x={45} y={y + 4} fontSize={12} fill="#000">{p}</text>
          </g>
        );
      })}
    </svg>
  );
}

export default function App() {
  return (
    <div
      style={{
        position: "absolute",
        left: 0,
        top: 0,
        width: 800,
        height: 807,
        background: "#FFFFFF",
        fontFamily: FONT,
        overflow: "hidden",
      }}
    >
      {PANELS.map((p, i) => (
        <Panel key={p.name} name={p.name} values={p.values} index={i} />
      ))}
      <YLabel />
      <Legends />
      <div
        style={{
          position: "absolute",
          left: 68,
          width: 582,
          top: 785,
          textAlign: "center",
          fontSize: 15,
          color: "#000",
        }}
      >
        Age (days)
      </div>
    </div>
  );
}
